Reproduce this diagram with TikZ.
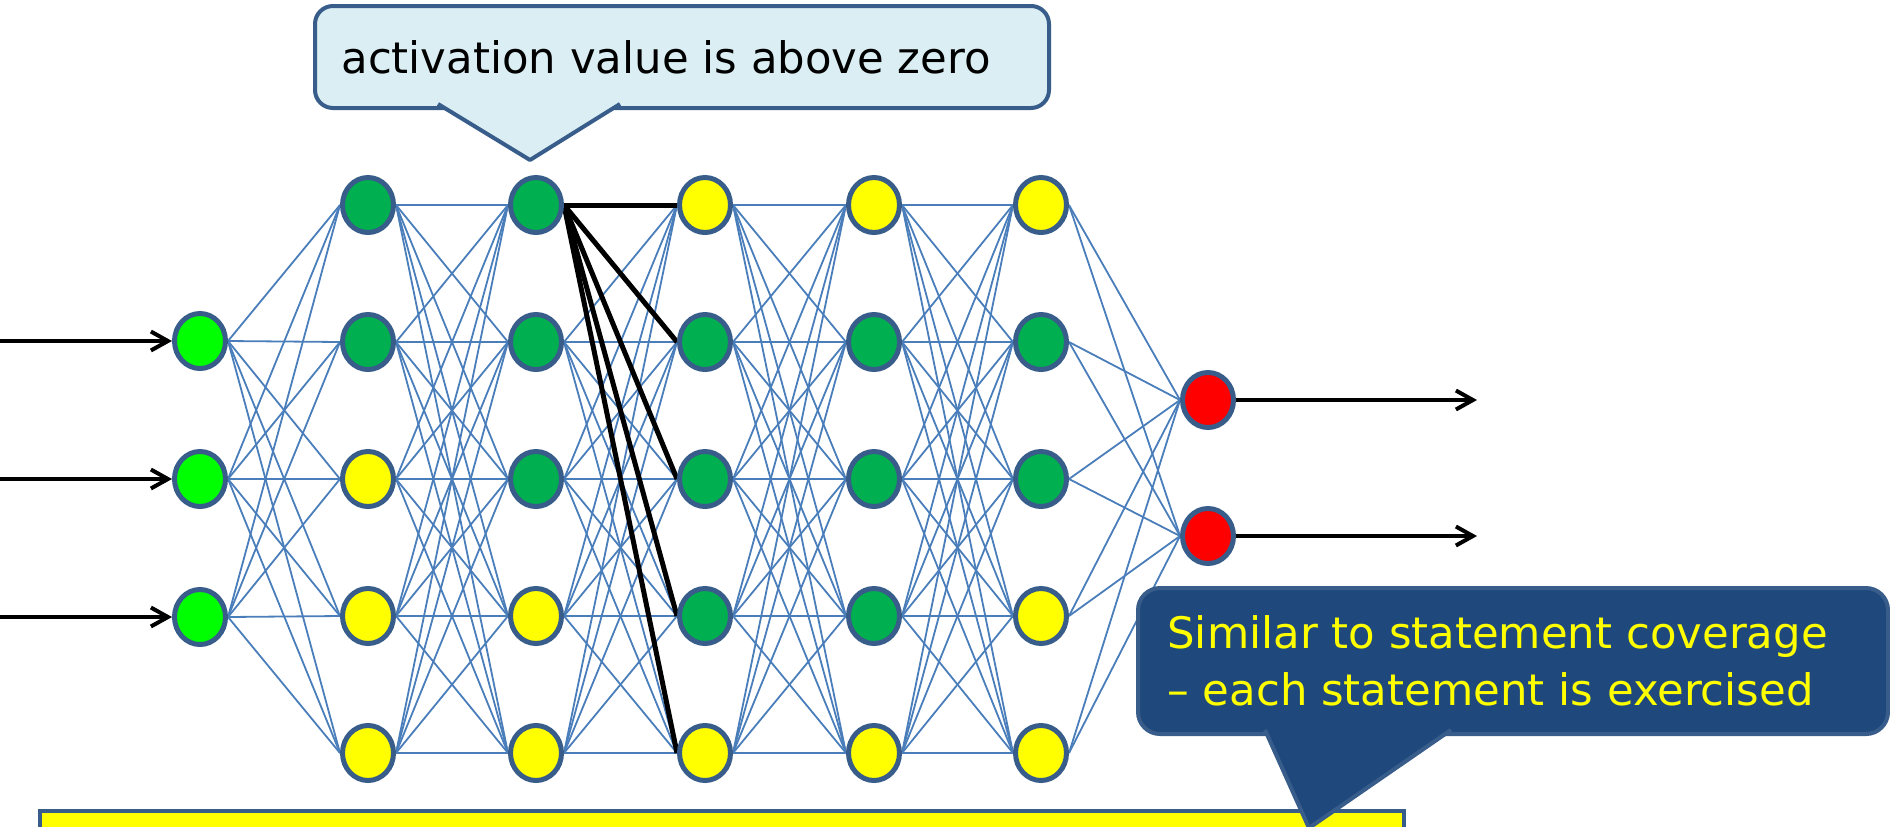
\documentclass[tikz,border=0pt]{standalone}
\usepackage{fontspec}
\setmainfont{DejaVu Sans}
\usetikzlibrary{arrows.meta,shapes.geometric}
\definecolor{bord}{HTML}{385D8A}
\definecolor{edgeblue}{HTML}{4A7EBB}
\definecolor{dg}{HTML}{00B050}
\definecolor{lg}{HTML}{00FF00}
\definecolor{yl}{HTML}{FFFF00}
\definecolor{rd}{HTML}{FF0000}
\definecolor{calloutlight}{HTML}{DAEEF3}
\definecolor{calloutdark}{HTML}{1F497D}
\pgfdeclarelayer{bg}
\pgfsetlayers{bg,main}
\newcommand\mklayer[3]{%
  \foreach \c [count=\r] in {#3} {\node[neuron,fill=\c] (n#1-\r) at (#2,{205+(\r-1)*137}) {};}}
\begin{document}
\begin{tikzpicture}[x=0.5pt,y=-0.5pt,
  neuron/.style={ellipse,draw=bord,line width=2.5pt,minimum width=25.5pt,minimum height=27.5pt,inner sep=0pt},
  edge/.style={draw=edgeblue,line width=0.9pt},
  hot/.style={draw=black,line width=2.5pt},
  io/.style={draw=black,line width=2pt,-{Straight Barb[length=8.5pt,width=9.5pt,line width=2pt]}},
  callbox/.style={draw=bord,line width=2pt,line join=round},
  lbl/.style={anchor=base west,inner sep=0pt,font=\fontsize{21.7}{26}\selectfont}]
\clip (0,0) rectangle (1890,826);
% input layer
\foreach \r in {1,2,3} {\node[neuron,fill=lg] (in\r) at (200,{341+(\r-1)*138}) {};}
\mklayer{1}{368}{dg,dg,yl,yl,yl}
\mklayer{2}{536}{dg,dg,dg,yl,yl}
\mklayer{3}{705}{yl,dg,dg,dg,yl}
\mklayer{4}{874}{yl,dg,dg,dg,yl}
\mklayer{5}{1041}{yl,dg,dg,yl,yl}
\node[neuron,fill=rd] (out1) at (1208,400) {};
\node[neuron,fill=rd] (out2) at (1208,536) {};
\begin{pgfonlayer}{bg}
\foreach \i in {1,2,3} \foreach \j in {1,...,5} \draw[edge] (in\i.east) -- (n1-\j.west);
\foreach \L in {1,...,4} {
  \pgfmathtruncatemacro\M{\L+1}
  \foreach \i in {1,...,5} \foreach \j in {1,...,5} \draw[edge] (n\L-\i.east) -- (n\M-\j.west);
}
\foreach \i in {1,...,5} \foreach \j in {1,2} \draw[edge] (n5-\i.east) -- (out\j.west);
\foreach \j in {1,...,5} \draw[hot] (n2-1.east) -- (n3-\j.west);
\end{pgfonlayer}
% input / output arrows
\coordinate (s1) at (0,341);
\coordinate (s2) at (0,479);
\coordinate (s3) at (0,617);
\foreach \r in {1,2,3} \draw[io] (s\r) -- (in\r.west);
\coordinate (t1) at (1477,400);
\coordinate (t2) at (1477,536);
\draw[io] (out1.east) -- (t1);
\draw[io] (out2.east) -- (t2);
% top callout
\draw[callbox,fill=calloutlight,rounded corners=9pt] (315,6) rectangle (1049,108);
\filldraw[callbox,fill=calloutlight] (438,104) -- (530,160) -- (620,104);
\node[lbl] (topcall) at (341,73) {activation value is above zero};
% bottom yellow box
\draw[draw=bord,line width=2pt,fill=yl] (40,811) rectangle (1404,860);
% bottom-right callout
\draw[callbox,fill=calloutdark,rounded corners=11pt] (1138,588) rectangle (1888,734);
\filldraw[callbox,fill=calloutdark] (1265,730) -- (1309,828) -- (1451,730);
\node[lbl,text=yl] (bcall1) at (1167,648) {Similar to statement coverage};
\node[lbl,text=yl] (bcall2) at (1167,705) {– each statement is exercised};
\end{tikzpicture}
\end{document}
